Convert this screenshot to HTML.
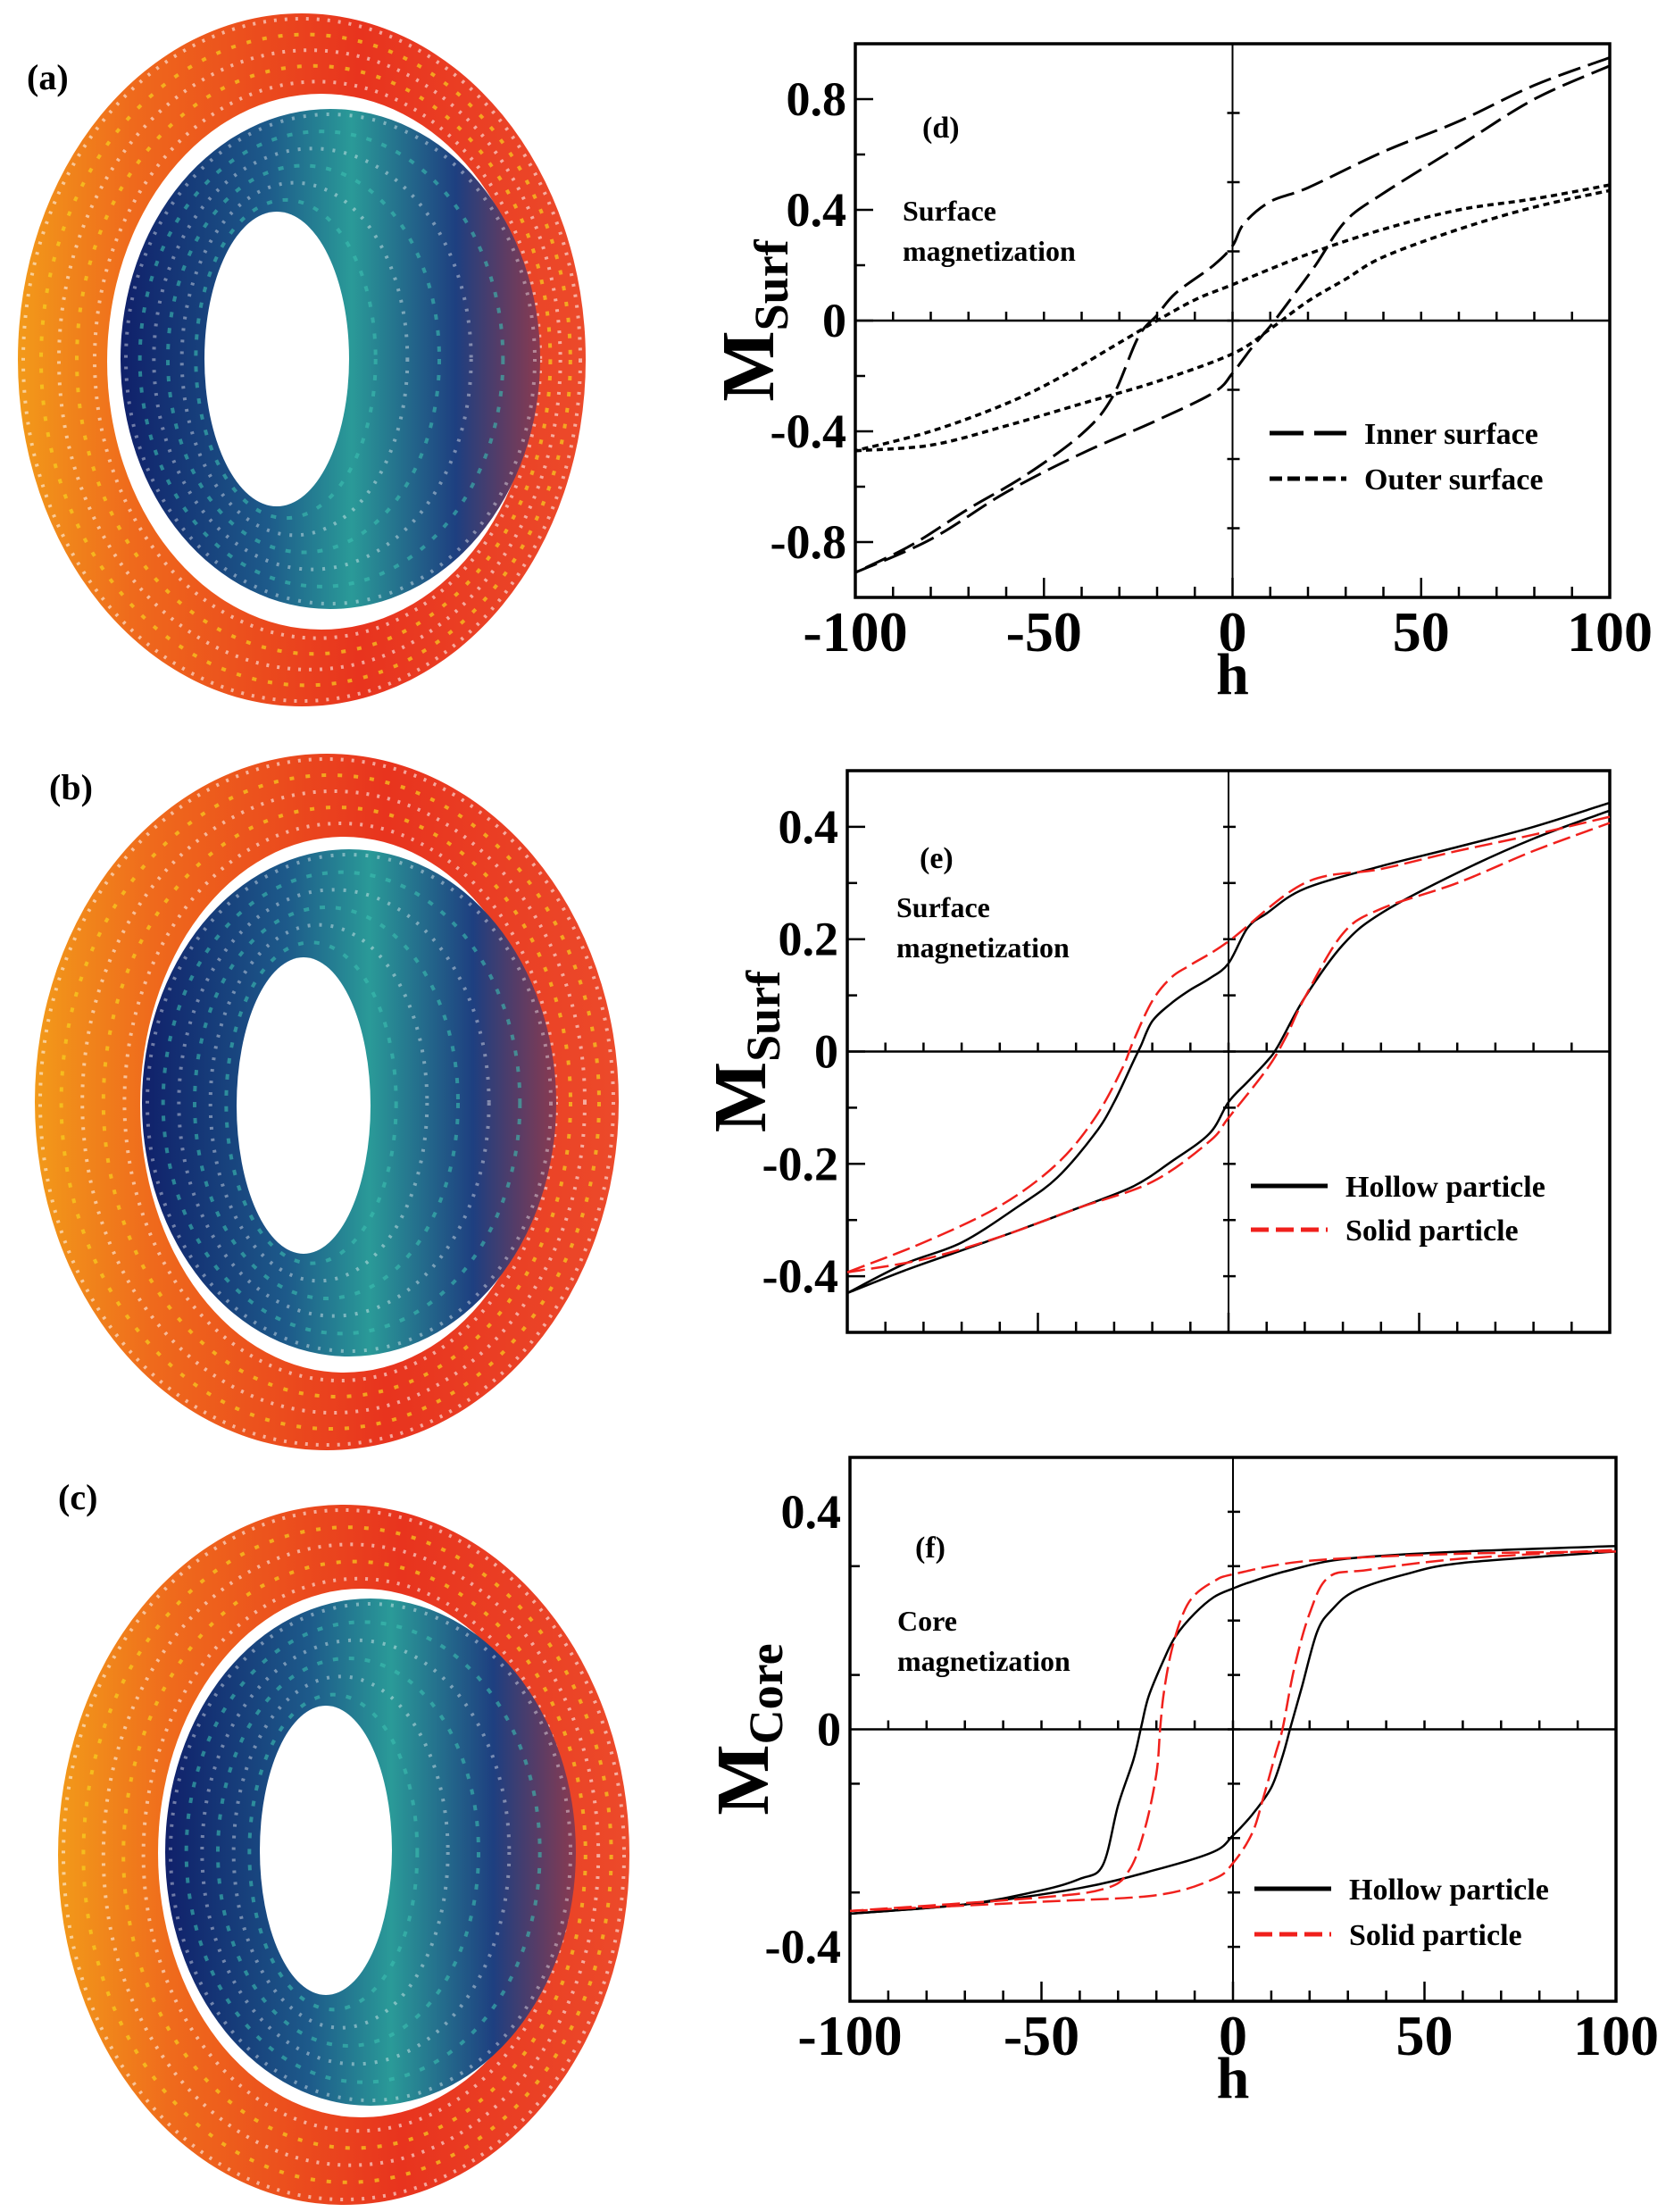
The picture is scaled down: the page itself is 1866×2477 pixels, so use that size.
<!DOCTYPE html>
<html><head><meta charset="utf-8"><style>
html,body{margin:0;padding:0;background:#fff;}
svg{display:block;}
text{font-family:"Liberation Serif",serif;font-weight:bold;fill:#000;}
</style></head><body>
<svg id="fig" width="1866" height="2477" viewBox="0 0 1866 2477" xmlns="http://www.w3.org/2000/svg">
<defs>
<linearGradient id="og" x1="0" y1="0" x2="1" y2="0">
<stop offset="0" stop-color="#f29a1a"/><stop offset="0.2" stop-color="#ef6a1c"/><stop offset="0.6" stop-color="#e8341e"/><stop offset="1" stop-color="#ec4a2a"/></linearGradient>
<linearGradient id="bg" x1="0" y1="0" x2="1" y2="0">
<stop offset="0" stop-color="#10206a"/><stop offset="0.35" stop-color="#1d5a8a"/><stop offset="0.55" stop-color="#2a9a98"/><stop offset="0.8" stop-color="#1e3f80"/><stop offset="1" stop-color="#8a3a50"/></linearGradient>
</defs>
<g id="rings"></g>
<g id="charts"></g>
</svg>
<script>
// ---- Panel (d) data ----
const dInnerUpH = [100,80,60,40,20,10,3,0,-5,-15,-20,-25,-32,-40,-55,-70,-85,-100];
const dInnerUpM = [0.95,0.85,0.72,0.61,0.48,0.43,0.35,0.27,0.2,0.1,0.02,-0.06,-0.28,-0.41,-0.56,-0.68,-0.81,-0.91];
const dInnerLoH = [-100,-80,-60,-40,-20,-5,0,5,10,15,22,30,40,60,80,100];
const dInnerLoM = [-0.91,-0.79,-0.62,-0.48,-0.36,-0.26,-0.19,-0.1,-0.02,0.07,0.2,0.36,0.46,0.63,0.8,0.92];
const dOuterUpH = [100,80,60,40,20,0,-10,-20,-30,-45,-60,-80,-100];
const dOuterUpM = [0.49,0.44,0.40,0.33,0.24,0.13,0.075,0,-0.08,-0.2,-0.3,-0.4,-0.47];
const dOuterLoH = [-100,-80,-60,-40,-20,0,10,20,30,40,60,80,100];
const dOuterLoM = [-0.47,-0.45,-0.38,-0.3,-0.22,-0.12,-0.03,0.07,0.15,0.23,0.33,0.41,0.47];
// ---- Panel (e) data ----
const eHollowUpH = [100,80,60,40,20,10,5,0,-5,-10,-15,-20,-23,-25,-30,-35,-45,-55,-70,-85,-100];
const eHollowUpM = [0.443,0.40,0.364,0.33,0.29,0.246,0.22,0.157,0.13,0.11,0.086,0.054,0.01,-0.018,-0.09,-0.146,-0.225,-0.275,-0.34,-0.378,-0.43];
const eHollowLoH = [-100,-85,-70,-55,-40,-25,-15,-5,0,5,10,13,20,30,40,60,80,100];
const eHollowLoM = [-0.43,-0.39,-0.354,-0.318,-0.28,-0.24,-0.196,-0.146,-0.09,-0.054,-0.018,0.01,0.096,0.19,0.246,0.318,0.379,0.429];
const eSolidUpH = [100,80,60,40,20,0,-10,-15,-20,-25,-28,-35,-45,-60,-80,-100];
const eSolidUpM = [0.418,0.386,0.357,0.325,0.30,0.196,0.154,0.132,0.09,0.018,-0.032,-0.118,-0.2,-0.275,-0.34,-0.393];
const eSolidLoH = [-100,-80,-60,-40,-20,-5,0,10,15,20,30,40,60,80,100];
const eSolidLoM = [-0.393,-0.37,-0.33,-0.28,-0.232,-0.16,-0.118,-0.032,0.025,0.096,0.21,0.254,0.30,0.357,0.407];
// ---- Panel (f) data ----
const fHollowUpH = [100,60,30,15,5,0,-5,-10,-15,-18,-22,-24,-26,-30,-34,-40,-50,-70,-100];
const fHollowUpM = [0.337,0.327,0.314,0.293,0.272,0.259,0.243,0.213,0.171,0.129,0.061,0.003,-0.056,-0.14,-0.25,-0.275,-0.296,-0.322,-0.339];
const fHollowLoH = [-100,-70,-40,-20,-5,0,5,10,13,15,18,22,26,32,45,60,100];
const fHollowLoM = [-0.339,-0.322,-0.292,-0.258,-0.225,-0.195,-0.157,-0.107,-0.048,0.003,0.078,0.18,0.221,0.255,0.285,0.306,0.327];
const fSolidUpH = [100,60,20,0,-5,-10,-13,-16,-18,-19,-20,-23,-27,-33,-50,-100];
const fSolidUpM = [0.327,0.323,0.31,0.285,0.272,0.247,0.213,0.146,0.07,0.003,-0.082,-0.183,-0.258,-0.292,-0.309,-0.334];
const fSolidLoH = [-100,-50,-20,-5,0,5,8,11,13,16,20,25,35,60,100];
const fSolidLoM = [-0.334,-0.317,-0.305,-0.275,-0.246,-0.191,-0.124,-0.048,0.003,0.112,0.213,0.28,0.293,0.314,0.33];
// ---- tick labels ----
const xTickVals = [-100,-50,0,50,100];
const dYTickVals = [0.8,0.4,0,-0.4,-0.8];
const eYTickVals = [0.4,0.2,0,-0.2,-0.4];
const fYTickVals = [0.4,0,-0.4];

const NS = 'http://www.w3.org/2000/svg';
function mk(tag, attrs, parent){const e=document.createElementNS(NS,tag);for(const k in attrs)e.setAttribute(k,attrs[k]);parent.appendChild(e);return e;}

// ---------- rings ----------
const rings = document.getElementById('rings');
const ringDefs = [
 {lab:'(a)',lx:30,ly:100,o:[338,403,318,388],w:[360,405,240,300],b:[370,402,235,280],h:[310,402,81,165]},
 {lab:'(b)',lx:55,ly:895,o:[366,1234,327,390],w:[385,1237,228,300],b:[391,1235,232,284],h:[340,1238,75,166]},
 {lab:'(c)',lx:65,ly:1690,o:[385,2077,320,392],w:[405,2075,228,296],b:[415,2074,230,284],h:[365,2072,74,162]}
];
ringDefs.forEach((r,i)=>{
  const g = mk('g',{},rings);
  
  
  mk('ellipse',{cx:r.o[0],cy:r.o[1],rx:r.o[2],ry:r.o[3],fill:'url(#og)'},g);
  for(let k=0;k<5;k++){
    const f=k/5;
    mk('ellipse',{cx:r.o[0]+(r.w[0]-r.o[0])*f,cy:r.o[1],rx:r.o[2]-(r.o[2]-r.w[2])*f-6,ry:r.o[3]-(r.o[3]-r.w[3])*f-6,fill:'none',stroke:k%2?'#f7d020':'#fff',
      'stroke-width':4,'stroke-dasharray':k%2?'5 13':'3 9',opacity:k%2?0.7:0.55},g);
  }
  mk('ellipse',{cx:r.w[0],cy:r.w[1],rx:r.w[2],ry:r.w[3],fill:'#fff'},g);
  mk('ellipse',{cx:r.b[0],cy:r.b[1],rx:r.b[2],ry:r.b[3],fill:'url(#bg)'},g);
  for(let k=0;k<6;k++){
    const f=k/6;
    mk('ellipse',{cx:r.b[0]+(r.h[0]-r.b[0])*f,cy:r.b[1],rx:r.b[2]-(r.b[2]-r.h[2])*f-6,ry:r.b[3]-(r.b[3]-r.h[3])*f-6,fill:'none',stroke:k%2?'#3cc0b0':'#fff',
      'stroke-width':4,'stroke-dasharray':k%2?'6 12':'3 10',opacity:k%2?0.6:0.4},g);
  }
  mk('ellipse',{cx:r.h[0],cy:r.h[1],rx:r.h[2],ry:r.h[3],fill:'#fff'},g);
  const t = mk('text',{x:r.lx,y:r.ly,'font-size':40},g);
  t.textContent=r.lab;
  
  
});

// ---------- charts ----------
const charts = document.getElementById('charts');
function smoothPath(pts){
  let d='M'+pts[0][0].toFixed(1)+','+pts[0][1].toFixed(1);
  for(let i=0;i<pts.length-1;i++){
    const p0=pts[Math.max(0,i-1)],p1=pts[i],p2=pts[i+1],p3=pts[Math.min(pts.length-1,i+2)];
    const c1=[p1[0]+(p2[0]-p0[0])/6,p1[1]+(p2[1]-p0[1])/6];
    const c2=[p2[0]-(p3[0]-p1[0])/6,p2[1]-(p3[1]-p1[1])/6];
    d+=' C'+c1[0].toFixed(1)+','+c1[1].toFixed(1)+' '+c2[0].toFixed(1)+','+c2[1].toFixed(1)+' '+p2[0].toFixed(1)+','+p2[1].toFixed(1);
  }
  return d;
}
function chart(cfg){
  const g = mk('g',{},charts);
  
  
  const sx = h => cfg.x0 + (h+100)/200*(cfg.x1-cfg.x0);
  const sy = m => cfg.y1 - (m-cfg.ymin)/(cfg.ymax-cfg.ymin)*(cfg.y1-cfg.y0);
  const X0=sx(0), Y0=sy(0);
  const zl=mk('line',{x1:cfg.x0,y1:Y0,x2:cfg.x1,y2:Y0,stroke:'#000','stroke-width':2.5},g);
  
  
  const zv=mk('line',{x1:X0,y1:cfg.y0,x2:X0,y2:cfg.y1,stroke:'#000','stroke-width':2},g);
  
  
  for(let h=-100;h<=100;h+=10){
    const maj = h%50===0;
    mk('line',{x1:sx(h),y1:cfg.y1,x2:sx(h),y2:cfg.y1-(maj?22:12),stroke:'#000','stroke-width':2.5},g);
    mk('line',{x1:sx(h),y1:Y0,x2:sx(h),y2:Y0-10,stroke:'#000','stroke-width':2.5},g);
  }
  const steps = Math.round((cfg.ymax-cfg.ymin)/cfg.yMinor);
  for(let k=0;k<=steps;k++){
    const m = cfg.ymin + k*cfg.yMinor;
    const maj = cfg.yTicks.some(v=>Math.abs(v-m)<1e-6);
    mk('line',{x1:cfg.x0,y1:sy(m),x2:cfg.x0+(maj?20:11),y2:sy(m),stroke:'#000','stroke-width':2.5},g);
  }
  const cs = Math.round((cfg.ymax-cfg.ymin)/cfg.cStep);
  for(let k=1;k<cs;k++){
    const m = cfg.ymin + k*cfg.cStep;
    mk('line',{x1:X0-6,y1:sy(m),x2:X0+8,y2:sy(m),stroke:'#000','stroke-width':2.5},g);
  }
  const fr=mk('rect',{x:cfg.x0,y:cfg.y0,width:cfg.x1-cfg.x0,height:cfg.y1-cfg.y0,fill:'none',stroke:'#000','stroke-width':3.5},g);
  
  
  cfg.yTicks.forEach(v=>{
    const t=mk('text',{x:cfg.x0-10,y:sy(v)+18,'font-size':54,'text-anchor':'end'},g);
    t.textContent = v===0?'0':String(v);
    
    
  });
  if(cfg.xLabels){
    xTickVals.forEach(v=>{
      const t=mk('text',{x:sx(v),y:cfg.y1+60,'font-size':64,'text-anchor':'middle'},g);
      t.textContent=String(v);
      
      
    });
    const xt=mk('text',{x:X0,y:cfg.y1+108,'font-size':66,'text-anchor':'middle'},g);
    xt.textContent='h';
    
    
  }
  const yt=mk('text',{x:0,y:0,'font-size':84,'text-anchor':'middle',transform:'translate('+(cfg.x0-92)+','+Y0+') rotate(-90)'},g);
  
  
  const tm=mk('tspan',{},yt); tm.textContent='M';
  const ts=mk('tspan',{'font-size':54,dy:16},yt); ts.textContent=cfg.sub;
  const pl=mk('text',{x:cfg.px,y:cfg.py,'font-size':34},g); pl.textContent=cfg.plabel;
  
  
  cfg.note.forEach((s,i)=>{
    const t=mk('text',{x:cfg.nx,y:cfg.ny+i*45,'font-size':32},g); t.textContent=s;
    
    
  });
  cfg.series.forEach((s,si)=>{
    const sg=mk('g',{},g);
    
    
    s.branches.forEach(b=>{
      const pts=b[0].map((h,i)=>[sx(h),sy(b[1][i])]);
      const p=mk('path',{d:smoothPath(pts),fill:'none',stroke:s.color,'stroke-width':s.w,'stroke-dasharray':s.dash,'stroke-linecap':'butt'},sg);
      
      
    });
    const ly = cfg.ly + si*cfg.lgap;
    const lg=mk('g',{},g);
    
    
    mk('line',{x1:cfg.lx,y1:ly,x2:cfg.lx+86,y2:ly,stroke:s.color,'stroke-width':s.lw,'stroke-dasharray':s.ldash},lg);
    const t=mk('text',{x:cfg.lx+106,y:ly+12,'font-size':34},lg); t.textContent=s.label;
  });
}
chart({name:'chart-d-surface-magnetization',x0:958,x1:1803,y0:49,y1:669,ymin:-1,ymax:1,yMinor:0.2,yTicks:dYTickVals,cStep:0.25,xLabels:true,sub:'Surf',
  plabel:'(d)',px:1033,py:154,note:['Surface','magnetization'],nx:1011,ny:247,lx:1422,ly:485,lgap:51,
  series:[
   {key:'inner-surface',label:'Inner surface',color:'#000',w:3,dash:'26 9',lw:5,ldash:'38 12 38',branches:[[dInnerUpH,dInnerUpM],[dInnerLoH,dInnerLoM]]},
   {key:'outer-surface',label:'Outer surface',color:'#000',w:3.5,dash:'7 5',lw:5,ldash:'14 6',branches:[[dOuterUpH,dOuterUpM],[dOuterLoH,dOuterLoM]]}
  ]});
chart({name:'chart-e-surface-magnetization',x0:949,x1:1803,y0:863,y1:1492,ymin:-0.5,ymax:0.5,yMinor:0.1,yTicks:eYTickVals,cStep:0.1,xLabels:false,sub:'Surf',
  plabel:'(e)',px:1030,py:972,note:['Surface','magnetization'],nx:1004,ny:1027,lx:1401,ly:1328,lgap:49,
  series:[
   {key:'hollow-particle',label:'Hollow particle',color:'#000',w:2.5,dash:'none',lw:5,ldash:'none',branches:[[eHollowUpH,eHollowUpM],[eHollowLoH,eHollowLoM]]},
   {key:'solid-particle',label:'Solid particle',color:'#f0201c',w:2.5,dash:'20 7',lw:5,ldash:'20 8',branches:[[eSolidUpH,eSolidUpM],[eSolidLoH,eSolidLoM]]}
  ]});
chart({name:'chart-f-core-magnetization',x0:952,x1:1810,y0:1632,y1:2241,ymin:-0.5,ymax:0.5,yMinor:0.2,yTicks:fYTickVals,cStep:0.1,xLabels:true,sub:'Core',
  plabel:'(f)',px:1025,py:1744,note:['Core','magnetization'],nx:1005,ny:1826,lx:1405,ly:2115,lgap:51,
  series:[
   {key:'hollow-particle',label:'Hollow particle',color:'#000',w:2.5,dash:'none',lw:5,ldash:'none',branches:[[fHollowUpH,fHollowUpM],[fHollowLoH,fHollowLoM]]},
   {key:'solid-particle',label:'Solid particle',color:'#f0201c',w:2.5,dash:'20 7',lw:5,ldash:'20 8',branches:[[fSolidUpH,fSolidUpM],[fSolidLoH,fSolidLoM]]}
  ]});
</script>
</body></html>
